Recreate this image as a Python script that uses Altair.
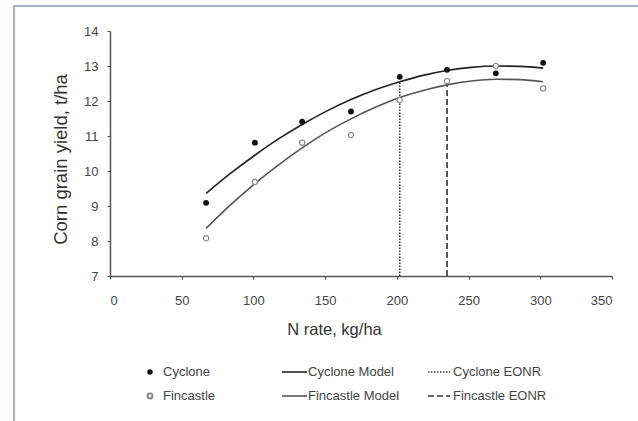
import altair as alt
import pandas as pd

# Observed yields (t/ha) at each N rate (kg/ha)
n_rate = [67, 101, 134, 168, 202, 235, 269, 302]
cyclone_yield = [9.09, 10.81, 11.41, 11.70, 12.69, 12.89, 12.79, 13.09]
fincastle_yield = [8.08, 9.69, 10.81, 11.03, 12.03, 12.57, 13.00, 12.36]

# Fitted response curves, sampled along the N range
model_n = [67, 84, 101, 118, 134, 151, 168, 185, 202, 219, 235, 252, 269, 286, 302]
cyclone_model = [9.36, 9.93, 10.45, 10.93, 11.33, 11.71, 12.04, 12.32, 12.55,
                 12.74, 12.87, 12.96, 13.00, 12.99, 12.94]
fincastle_model = [8.36, 9.03, 9.64, 10.19, 10.66, 11.11, 11.49, 11.82, 12.10,
                   12.31, 12.46, 12.57, 12.62, 12.61, 12.55]

# Economic optimum N rates and the model yield there
eonr_n = [202, 235]
eonr_yield = [12.55, 12.46]

x_ticks = [0, 50, 100, 150, 200, 250, 300, 350]
y_ticks = [7, 8, 9, 10, 11, 12, 13, 14]

W, H = 502, 245
FONT = "Liberation Sans"
INK = "#333333"

pts = pd.DataFrame({"N": n_rate, "cy": cyclone_yield, "fi": fincastle_yield})
mod = pd.DataFrame({"N": model_n, "cy": cyclone_model, "fi": fincastle_model})
eonr = pd.DataFrame({"N": eonr_n, "top": eonr_yield, "base": [7, 7]})

x_axis = alt.Axis(values=x_ticks, title="N rate, kg/ha", titleX=224, titleY=58,
                  titleBaseline="alphabetic", titleFontSize=16.5, labelPadding=15)
y_axis = alt.Axis(values=y_ticks, title="Corn grain yield, t/ha", titleX=-44,
                  titleY=128, titleBaseline="alphabetic", titleAngle=270,
                  titleFontSize=18.5, labelPadding=9)
xs = alt.Scale(domain=[0, 350], nice=False)
ys = alt.Scale(domain=[7, 14], nice=False)


def X(field):
    return alt.X(field, type="quantitative", scale=xs, axis=x_axis)


def Y(field):
    return alt.Y(field, type="quantitative", scale=ys, axis=y_axis)


cy_line = alt.Chart(mod).mark_line(color="#222222", strokeWidth=1.6,
                                    interpolate="monotone").encode(x=X("N"), y=Y("cy"))
fi_line = alt.Chart(mod).mark_line(color="#555555", strokeWidth=1.6,
                                    interpolate="monotone").encode(x=X("N"), y=Y("fi"))

cy_eonr = alt.Chart(eonr.iloc[[0]]).mark_rule(color=INK, strokeWidth=1.6,
                                              strokeDash=[1.5, 1.5]).encode(
    x=X("N"), y=Y("base"), y2="top")
fi_eonr = alt.Chart(eonr.iloc[[1]]).mark_rule(color=INK, strokeWidth=1.6,
                                              strokeDash=[6, 3]).encode(
    x=X("N"), y=Y("base"), y2="top")

cy_pts = alt.Chart(pts).mark_point(filled=True, color="#111111", size=34,
                                   opacity=1).encode(x=X("N"), y=Y("cy"))
fi_pts = alt.Chart(pts).mark_point(fill="white", stroke="#888888", strokeWidth=1.2,
                                   size=28, opacity=1).encode(x=X("N"), y=Y("fi"))

# Legend below the plot, built from marks
one = pd.DataFrame({"k": [0]})
row1, row2 = 341, 365
legend = []
legend.append(alt.Chart(one).mark_point(filled=True, color="#111111", size=30, opacity=1)
              .encode(x=alt.value(40), y=alt.value(row1)))
legend.append(alt.Chart(one).mark_point(fill="white", stroke="#888888", size=24, opacity=1)
              .encode(x=alt.value(40), y=alt.value(row2)))
legend.append(alt.Chart(one).mark_rule(color="#222222", strokeWidth=1.6)
              .encode(x=alt.value(172), x2=alt.value(197), y=alt.value(row1)))
legend.append(alt.Chart(one).mark_rule(color="#555555", strokeWidth=1.6)
              .encode(x=alt.value(172), x2=alt.value(197), y=alt.value(row2)))
legend.append(alt.Chart(one).mark_rule(color=INK, strokeWidth=1.4, strokeDash=[1.5, 1.5])
              .encode(x=alt.value(318), x2=alt.value(340), y=alt.value(row1)))
legend.append(alt.Chart(one).mark_rule(color=INK, strokeWidth=1.4, strokeDash=[6, 3])
              .encode(x=alt.value(318), x2=alt.value(340), y=alt.value(row2)))
for label, lx, ly in [("Cyclone", 53, row1), ("Fincastle", 53, row2),
                      ("Cyclone Model", 198, row1), ("Fincastle Model", 198, row2),
                      ("Cyclone EONR", 343, row1), ("Fincastle EONR", 343, row2)]:
    legend.append(alt.Chart(one).mark_text(text=label, align="left", baseline="middle",
                                           font=FONT, fontSize=13, color="#444444")
                  .encode(x=alt.value(lx), y=alt.value(ly)))

# Frame lines around the figure
frame_left = alt.Chart(one).mark_rule(color="#a4b4d4", strokeWidth=2).encode(
    x=alt.value(-96), y=alt.value(-25), y2=alt.value(400))
frame_top = alt.Chart(one).mark_rule(color="#a4b4d4", strokeWidth=2).encode(
    x=alt.value(-97), x2=alt.value(540), y=alt.value(-25))

chart = alt.layer(
    fi_eonr, cy_eonr, fi_line, cy_line, fi_pts, cy_pts,
    frame_left, frame_top, *legend
).properties(
    width=W, height=H,
    autosize=alt.AutoSizeParams(type="none"),
    padding={"left": 110, "top": 31, "right": 26, "bottom": 145},
    background="white",
).configure_view(
    stroke=None
).configure_axis(
    grid=False, domainColor="#555555", domainWidth=1.5, tickColor="#555555",
    tickWidth=1.2, tickSize=3, labelFont=FONT, labelFontSize=13, labelColor="#444444",
    titleFont=FONT, titleColor="#333333", titleFontWeight="normal",
)

chart.save("out.html", embed_options={"renderer": "svg", "actions": False})
